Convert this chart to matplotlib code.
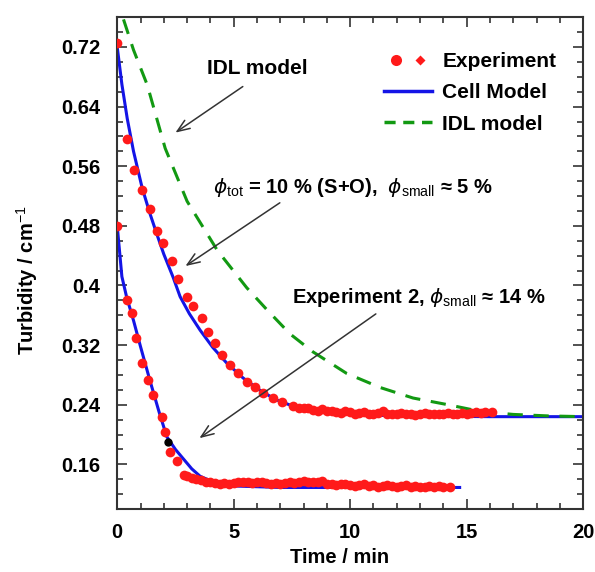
import matplotlib
matplotlib.use('Agg')
import matplotlib.pyplot as plt
from matplotlib.ticker import MultipleLocator
from matplotlib.lines import Line2D
from matplotlib.legend_handler import HandlerTuple

plt.rcParams['font.family'] = ['Liberation Sans', 'DejaVu Sans']
plt.rcParams['mathtext.fontset'] = 'custom'
plt.rcParams['mathtext.it'] = 'DejaVu Sans:style=italic:weight=normal'
plt.rcParams['mathtext.rm'] = 'Liberation Sans:weight=normal'

# experiment 1 (phi_tot = 10 %)
exp1_t = [0.0, 0.43, 0.73, 1.07, 1.4, 1.7, 1.98, 2.36, 2.6, 3.0, 3.27, 3.65, 3.9, 4.2,
          4.5, 4.85, 5.2, 5.56, 5.9, 6.27, 6.7, 7.08, 7.55, 7.8, 8.0, 8.2, 8.4, 8.6,
          8.8, 9.0, 9.2, 9.4, 9.6, 9.8, 10.0, 10.2, 10.4, 10.6, 10.8, 11.0, 11.2,
          11.4, 11.6, 11.8, 12.0, 12.2, 12.4, 12.6, 12.8, 13.0, 13.2, 13.4, 13.6,
          13.8, 14.0, 14.2, 14.4, 14.6, 14.8, 15.0, 15.2, 15.4, 15.6, 15.8, 16.1]
exp1_v = [0.725, 0.597, 0.555, 0.528, 0.503, 0.473, 0.457, 0.433, 0.409, 0.385, 0.373,
          0.356, 0.337, 0.323, 0.307, 0.293, 0.283, 0.271, 0.264, 0.256, 0.249, 0.244,
          0.238, 0.236, 0.235, 0.236, 0.233, 0.232, 0.234, 0.231, 0.232, 0.230, 0.229,
          0.231, 0.230, 0.228, 0.229, 0.230, 0.227, 0.228, 0.229, 0.231, 0.228, 0.227,
          0.228, 0.229, 0.227, 0.228, 0.226, 0.228, 0.229, 0.227, 0.228, 0.227, 0.228,
          0.229, 0.227, 0.228, 0.229, 0.228, 0.229, 0.230, 0.229, 0.230, 0.230]

# experiment 2 (phi_small = 14 %)
exp2_t = [0.0, 0.43, 0.64, 0.8, 1.07, 1.33, 1.55, 1.93, 2.06, 2.27, 2.57, 2.85, 3.0,
          3.2, 3.4, 3.6, 3.8, 4.0, 4.2, 4.4, 4.6, 4.8, 5.0, 5.2, 5.4, 5.6, 5.8, 6.0,
          6.2, 6.4, 6.6, 6.8, 7.0, 7.2, 7.4, 7.6, 7.8, 8.0, 8.2, 8.4, 8.6, 8.8, 9.0,
          9.2, 9.4, 9.6, 9.8, 10.0, 10.2, 10.4, 10.6, 10.8, 11.0, 11.2, 11.4, 11.6,
          11.8, 12.0, 12.2, 12.4, 12.6, 12.8, 13.0, 13.2, 13.4, 13.6, 13.8, 14.0,
          14.3]
exp2_v = [0.48, 0.381, 0.363, 0.329, 0.296, 0.273, 0.253, 0.224, 0.204, 0.177, 0.164,
          0.146, 0.145, 0.142, 0.140, 0.139, 0.137, 0.136, 0.135, 0.134, 0.135, 0.134,
          0.135, 0.136, 0.137, 0.136, 0.135, 0.137, 0.136, 0.135, 0.134, 0.135, 0.134,
          0.135, 0.136, 0.135, 0.137, 0.138, 0.137, 0.136, 0.137, 0.138, 0.134, 0.133,
          0.132, 0.133, 0.134, 0.132, 0.131, 0.132, 0.133, 0.131, 0.132, 0.130, 0.131,
          0.132, 0.131, 0.130, 0.131, 0.132, 0.130, 0.131, 0.130, 0.129, 0.131, 0.130,
          0.131, 0.130, 0.130]

# cell model curves
cell1_t = [0.0, 0.2, 0.43, 0.7, 1.07, 1.4, 1.7, 2.0, 2.4, 2.7, 3.1, 3.56, 4.1, 4.7,
           5.4, 6.1, 6.8, 7.55, 8.3, 9.0, 10.0, 11.0, 12.0, 14.0, 16.0, 18.0, 20.0]
cell1_v = [0.72, 0.67, 0.624, 0.580, 0.531, 0.497, 0.469, 0.442, 0.411, 0.385, 0.362,
           0.340, 0.317, 0.296, 0.276, 0.260, 0.247, 0.238, 0.232, 0.229, 0.227, 0.226,
           0.225, 0.2245, 0.224, 0.224, 0.224]
cell2_t = [0.0, 0.2, 0.4, 0.7, 1.0, 1.4, 1.8, 2.13, 2.5, 2.85, 3.2, 3.56, 4.0, 4.3,
           5.0, 6.0, 7.0, 8.0, 10.0, 12.0, 14.7]
cell2_v = [0.48, 0.412, 0.385, 0.353, 0.318, 0.273, 0.230, 0.197, 0.180, 0.167, 0.154,
           0.144, 0.138, 0.135, 0.131, 0.130, 0.129, 0.129, 0.129, 0.129, 0.129]

# IDL model curve
idl_t = [0.27, 0.7, 1.29, 2.06, 3.0, 4.3, 5.56, 6.44, 7.42, 8.4, 9.85, 11.3, 12.7,
         14.2, 15.6, 17.0, 18.5, 20.0]
idl_v = [0.757, 0.716, 0.669, 0.584, 0.513, 0.447, 0.397, 0.367, 0.335, 0.311, 0.282,
         0.263, 0.249, 0.240, 0.231, 0.227, 0.225, 0.224]

ytick_vals = [0.16, 0.24, 0.32, 0.4, 0.48, 0.56, 0.64, 0.72]
ytick_labels = ['0.16', '0.24', '0.32', '0.4', '0.48', '0.56', '0.64', '0.72']

fig = plt.figure(figsize=(5.95, 5.72), dpi=100)
ax = fig.add_axes([0.197, 0.110, 0.783, 0.860])

blue = '#1414e6'
red = '#ff1a1a'
ax.plot(cell1_t, cell1_v, color=blue, lw=2.2, zorder=2)
ax.plot(cell2_t, cell2_v, color=blue, lw=2.2, zorder=2)
ax.plot(idl_t, idl_v, color='#129912', lw=2.2, ls=(0, (5, 3.5)), zorder=2)
ax.plot(exp1_t, exp1_v, 'o', color=red, ms=7, mec='none', zorder=3)
ax.plot(exp2_t, exp2_v, 'o', color=red, ms=7, mec='none', zorder=3)
ax.plot([2.2], [0.190], 'o', color='black', ms=5, zorder=4)

ax.set_xlim(0, 20)
ax.set_ylim(0.10, 0.76)
ax.set_xticks([0, 5, 10, 15, 20])
ax.xaxis.set_minor_locator(MultipleLocator(1))
ax.set_yticks(ytick_vals)
ax.set_yticklabels(ytick_labels)
ax.yaxis.set_minor_locator(MultipleLocator(0.02))
ax.tick_params(which='both', direction='in', top=True, right=True, width=1.2,
               color='#333333')
ax.tick_params(which='major', length=7, labelsize=14.5)
ax.tick_params(axis='y', which='major', pad=12)
ax.tick_params(axis='x', which='major', pad=10)
ax.tick_params(which='minor', length=4)
for s in ax.spines.values():
    s.set_linewidth(1.5)
    s.set_color('#333333')
for lab in ax.get_xticklabels() + ax.get_yticklabels():
    lab.set_fontweight('bold')

ax.set_xlabel('Time / min', fontsize=14.5, fontweight='bold')
ax.set_ylabel('Turbidity / cm$^{-1}$', fontsize=14.5, fontweight='bold')
ax.xaxis.set_label_coords(0.478, -0.08)
ax.yaxis.set_label_coords(-0.165, 0.465)

# legend
h_exp = (Line2D([], [], ls='none', marker='o', color=red, ms=8, mec='none'),
         Line2D([], [], ls='none', marker='D', color=red, ms=5, mec='none'))
h_cell = Line2D([], [], color=blue, lw=2.5)
h_idl = Line2D([], [], color='#129912', lw=2.5, ls=(0, (3.2, 2.2)))
ax.legend([h_exp, h_cell, h_idl], ['Experiment', 'Cell Model', 'IDL model'],
          handler_map={tuple: HandlerTuple(ndivide=None, pad=0.0)},
          loc='upper left', bbox_to_anchor=(0.541, 0.958), frameon=False,
          numpoints=1, handlelength=2.3, handletextpad=0.5, borderpad=0.2,
          labelspacing=0.58, prop={'weight': 'bold', 'size': 15})

arr = dict(arrowstyle='->, head_length=0.9, head_width=0.35', color='#333333', lw=1.1)
ax.annotate('', xy=(2.4, 0.603), xytext=(5.49, 0.669), arrowprops=arr)
ax.annotate('', xy=(2.83, 0.424), xytext=(7.08, 0.513), arrowprops=arr)
ax.annotate('', xy=(3.43, 0.193), xytext=(11.2, 0.364), arrowprops=arr)

ax.text(3.86, 0.691, 'IDL model', fontsize=15, fontweight='bold', ha='left', va='center')
ax.text(4.1, 0.531, r'$\phi_{\mathrm{tot}}$ = 10 % (S+O),  $\phi_{\mathrm{small}}$ ≈ 5 %',
        fontsize=14.5, fontweight='bold', ha='left', va='center')
ax.text(7.5, 0.384, r'Experiment 2, $\phi_{\mathrm{small}}$ ≈ 14 %',
        fontsize=14.5, fontweight='bold', ha='left', va='center')

fig.savefig('out.png', dpi=100)
